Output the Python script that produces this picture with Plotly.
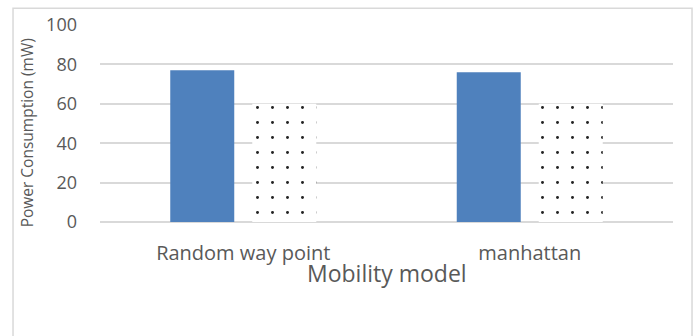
import plotly.graph_objects as go

# Mobility models compared on power consumption
categories = ["Random way point", "manhattan"]
series_a = [77, 76]
series_b = [60, 60]

FONT = "Open Sans"
GREY = "#595959"
GRID = "#d9d9d9"

fig = go.Figure()
fig.add_trace(go.Bar(
    x=categories, y=series_a, name="Series 1",
    marker=dict(color="#4f81bd", line=dict(width=0)),
))
fig.add_trace(go.Bar(
    x=categories, y=series_b, name="Series 2",
    marker=dict(
        color="white",
        line=dict(width=0),
        pattern=dict(shape=".", fgcolor="#222222", bgcolor="white",
                     size=15, solidity=0.03, fillmode="replace"),
    ),
))

fig.update_layout(
    width=697, height=336,
    margin=dict(l=100, r=24, t=22, b=114),
    paper_bgcolor="white", plot_bgcolor="white",
    showlegend=False,
    barmode="group", bargap=0.4276, bargroupgap=0.2195,
    font=dict(family=FONT, color=GREY),
    xaxis=dict(
        showgrid=False, showline=False, ticks="",
        tickfont=dict(size=20, color=GREY),
        ticklabelstandoff=17,
    ),
    yaxis=dict(
        range=[0, 100], dtick=20, showgrid=True, gridcolor=GRID, gridwidth=1.5,
        zeroline=True, zerolinecolor=GRID, zerolinewidth=1.5,
        showline=False, ticks="",
        tickfont=dict(size=18, color=GREY),
        ticklabelstandoff=22,
    ),
    shapes=[dict(
        type="rect", xref="paper", yref="paper",
        x0=-0.1518, x1=1.0332, y0=-0.7, y1=1.085,
        line=dict(color=GRID, width=1.5), fillcolor="rgba(0,0,0,0)",
        layer="below",
    )],
    annotations=[
        dict(text="Power Consumption (mW)", textangle=-90,
             xref="paper", yref="paper", x=-0.1274, y=0.455,
             xanchor="center", yanchor="middle",
             showarrow=False, font=dict(size=15.5, color=GREY)),
        dict(text="Mobility model", xref="paper", yref="paper",
             x=0.5, y=-0.26, xanchor="center", yanchor="middle",
             showarrow=False, font=dict(size=23, color=GREY)),
    ],
)

fig.write_html("out.html")
